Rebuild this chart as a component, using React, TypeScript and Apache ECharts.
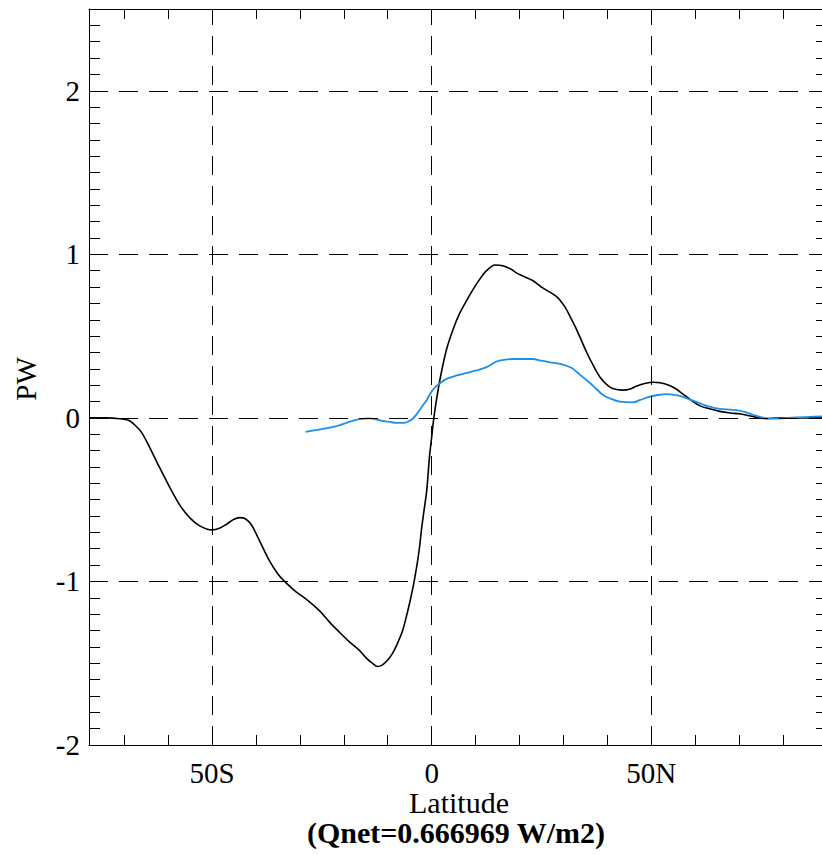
import React, { useEffect, useRef } from "react";
import * as echarts from "echarts";

// Ocean heat transport (PW) vs latitude
const blackLat = [
  -78, -74, -71, -69, -67.5, -66, -64.2, -62, -59.7, -57.4, -55.1, -52.8, -50, -48.3, -46.7, -45,
  -43.7, -42.5, -41, -39.2, -37, -35, -33.5, -31, -28.5, -25.5, -23.2, -21, -18.7, -16.5, -14.8,
  -13.5, -12.3, -11.2, -10, -8.9, -7.8, -6.6, -5.8, -5, -4.2, -3.4, -2.8, -2.3, -1.7, -1.1, -0.5,
  0, 0.5, 1.1, 2, 3.4, 5, 6.4, 8, 9.3, 11, 12.5, 14.4, 16.2, 18, 19.4, 21, 23, 25, 26.2, 28.5,
  30.3, 31.7, 33, 35.3, 37, 38.3, 40, 41.2, 43.5, 45, 46.7, 48.5, 50.5, 52, 54, 55.5, 57, 59.5,
  61, 62.6, 65.6, 68, 70, 72, 73.5, 76, 79, 84, 90,
];
const blackPW = [
  0, 0, -0.005, -0.015, -0.045, -0.09, -0.18, -0.3, -0.42, -0.53, -0.61, -0.66, -0.685, -0.675,
  -0.65, -0.62, -0.61, -0.615, -0.655, -0.75, -0.87, -0.955, -1.0, -1.06, -1.11, -1.18, -1.25,
  -1.31, -1.37, -1.42, -1.47, -1.5, -1.52, -1.51, -1.48, -1.44, -1.38, -1.3, -1.22, -1.13, -1.03,
  -0.91, -0.8, -0.68, -0.56, -0.44, -0.24, -0.12, 0.0, 0.11, 0.25, 0.42, 0.55, 0.64, 0.72, 0.78,
  0.85, 0.9, 0.935, 0.93, 0.91, 0.885, 0.865, 0.84, 0.8, 0.78, 0.74, 0.68, 0.61, 0.54, 0.4, 0.31,
  0.25, 0.2, 0.18, 0.17, 0.175, 0.195, 0.21, 0.218, 0.215, 0.2, 0.18, 0.15, 0.1, 0.075, 0.06,
  0.04, 0.03, 0.025, 0.015, 0.006, -0.004, 0, 0, 0,
];

const blueLat = [
  -28.7, -26, -23.2, -21, -19.4, -17.8, -16.4, -14.1, -12.5, -11.2, -9.5, -8, -6.2, -5.2, -4.3,
  -3.5, -2.7, -1.9, -1.1, 0.2, 1.8, 3.5, 5.7, 8, 10.2, 12.5, 14.8, 16.5, 18.5, 21, 23, 25, 27,
  29.2, 31.9, 33.5, 35.3, 37, 39, 41, 42.8, 45.8, 47.5, 49.7, 51.5, 53.5, 56.5, 58, 61, 63, 65.6,
  68, 70, 71.5, 73, 75, 76.3, 78, 81, 85, 90,
];
const bluePW = [
  -0.085, -0.073, -0.06, -0.045, -0.03, -0.017, -0.008, -0.003, -0.01, -0.018, -0.025, -0.03,
  -0.03, -0.02, -0.005, 0.02, 0.05, 0.08, 0.11, 0.17, 0.21, 0.24, 0.26, 0.275, 0.29, 0.31, 0.345,
  0.355, 0.36, 0.36, 0.36, 0.35, 0.34, 0.33, 0.305, 0.27, 0.23, 0.19, 0.14, 0.115, 0.1, 0.095,
  0.11, 0.13, 0.14, 0.145, 0.135, 0.12, 0.09, 0.07, 0.055, 0.05, 0.045, 0.035, 0.02, 0.005,
  -0.005, -0.005, 0, 0.005, 0.01,
];

const latTicks = [-70, -60, -50, -40, -30, -20, -10, 0, 10, 20, 30, 40, 50, 60, 70, 80, 90];
const latLabels = [-50, 0, 50];
const gridLats = [-50, 0, 50];
const gridPW = [-1, 0, 1, 2];

const FONT = "Liberation Serif";

function latFormat(v: number): string {
  if (v === 0) return "0";
  return v < 0 ? `${-v}S` : `${v}N`;
}

export default function App() {
  const ref = useRef<HTMLDivElement>(null);
  useEffect(() => {
    if (!ref.current) return;
    const chart = echarts.init(ref.current, null, { renderer: "svg" });
    const axisLine = { show: true, onZero: false, lineStyle: { color: "#000", width: 1 } };
    const tickStyle = { color: "#000", width: 1 };
    const dash = { color: "#000", width: 1, type: [19, 11] as any };
    chart.setOption({
      animation: false,
      backgroundColor: "#fff",
      grid: {
        left: 89,
        top: 9,
        width: 738,
        height: 736,
        containLabel: false,
        outerBoundsMode: "none",
      },
      xAxis: [
        {
          type: "value",
          position: "bottom",
          min: -78,
          max: 90,
          axisLine,
          axisTick: { show: true, inside: true, length: 10, lineStyle: tickStyle, customValues: latTicks },
          axisLabel: {
            show: true,
            customValues: latLabels,
            formatter: (v: number) => latFormat(v),
            fontFamily: FONT,
            fontSize: 29,
            color: "#000",
            margin: 13,
          },
          splitLine: { show: false },
        },
        {
          type: "value",
          position: "top",
          min: -78,
          max: 90,
          axisLine,
          axisTick: { show: true, inside: true, length: 10, lineStyle: tickStyle, customValues: latTicks },
          axisLabel: { show: false },
          splitLine: { show: false },
        },
      ],
      yAxis: [
        {
          type: "value",
          position: "left",
          min: -2,
          max: 2.5,
          interval: 0.1,
          axisLine,
          axisTick: { show: true, inside: true, length: 11, lineStyle: tickStyle },
          axisLabel: {
            show: true,
            interval: 0,
            formatter: (v: number) =>
              Math.abs(v - Math.round(v)) < 1e-6 ? String(Math.round(v)) : "",
            fontFamily: FONT,
            fontSize: 29,
            color: "#000",
            margin: 9,
          },
          splitLine: { show: false },
        },
        {
          type: "value",
          position: "right",
          min: -2,
          max: 2.5,
          interval: 0.1,
          axisLine,
          axisTick: { show: true, inside: true, length: 11, lineStyle: tickStyle },
          axisLabel: { show: false },
          splitLine: { show: false },
        },
      ],
      series: [
        {
          type: "line",
          xAxisIndex: 0,
          yAxisIndex: 0,
          data: blackLat.map((x, i) => [x, blackPW[i]]),
          showSymbol: false,
          smooth: 0.3,
          lineStyle: { color: "#000", width: 1.6 },
          silent: true,
          z: 3,
          markLine: {
            silent: true,
            symbol: ["none", "none"],
            label: { show: false },
            lineStyle: dash,
            data: [
              ...gridLats.map((v) => ({ xAxis: v })),
              ...gridPW.map((v) => ({ yAxis: v })),
            ],
          },
        },
        {
          type: "line",
          xAxisIndex: 0,
          yAxisIndex: 0,
          data: blueLat.map((x, i) => [x, bluePW[i]]),
          showSymbol: false,
          smooth: 0.3,
          lineStyle: { color: "#1e8fe6", width: 1.8 },
          silent: true,
          z: 4,
        },
      ],
      graphic: [
        {
          type: "text",
          x: 459,
          y: 802,
          style: {
            text: "Latitude",
            fontFamily: FONT,
            fontSize: 30,
            fill: "#000",
            textAlign: "center",
            textVerticalAlign: "middle",
          },
        },
        {
          type: "text",
          x: 456,
          y: 832,
          style: {
            text: "(Qnet=0.666969 W/m2)",
            fontFamily: FONT,
            fontSize: 30,
            fontWeight: "bold",
            fill: "#000",
            textAlign: "center",
            textVerticalAlign: "middle",
          },
        },
        {
          type: "text",
          x: 26,
          y: 379,
          rotation: Math.PI / 2,
          style: {
            text: "PW",
            fontFamily: FONT,
            fontSize: 29,
            fill: "#000",
            textAlign: "center",
            textVerticalAlign: "middle",
          },
        },
      ],
    });
    return () => chart.dispose();
  }, []);
  return (
    <div
      ref={ref}
      style={{ position: "absolute", left: 0, top: 0, width: 822, height: 855, background: "#fff" }}
    />
  );
}
